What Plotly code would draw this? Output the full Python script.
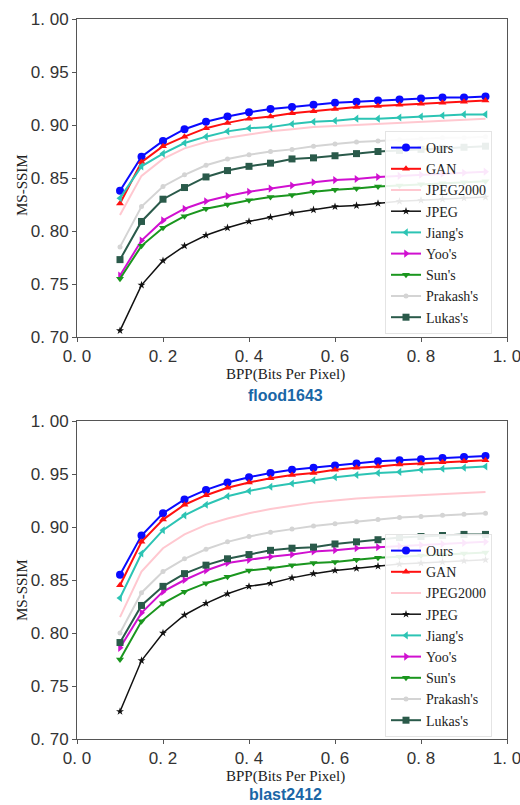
import plotly.graph_objects as go

bpp = [0.10, 0.15, 0.20, 0.25, 0.30, 0.35, 0.40, 0.45, 0.50, 0.55,
       0.60, 0.65, 0.70, 0.75, 0.80, 0.85, 0.90, 0.95]

series_names = ["Ours", "GAN", "JPEG2000", "JPEG", "Jiang's", "Yoo's", "Sun's", "Prakash's", "Lukas's"]

# flood1643
flood_ours = [0.838, 0.870, 0.885, 0.896, 0.903, 0.908, 0.912, 0.915, 0.917, 0.919, 0.921, 0.922, 0.923, 0.924, 0.925, 0.926, 0.926, 0.927]
flood_gan = [0.826, 0.865, 0.880, 0.889, 0.897, 0.902, 0.906, 0.908, 0.911, 0.913, 0.915, 0.917, 0.918, 0.919, 0.920, 0.921, 0.922, 0.923]
flood_jpeg2000 = [0.815, 0.852, 0.868, 0.878, 0.884, 0.888, 0.891, 0.894, 0.896, 0.898, 0.899, 0.900, 0.901, 0.902, 0.903, 0.904, 0.905, 0.906]
flood_jpeg = [0.706, 0.749, 0.772, 0.786, 0.796, 0.803, 0.809, 0.813, 0.817, 0.820, 0.823, 0.824, 0.826, 0.828, 0.829, 0.830, 0.831, 0.832]
flood_jiang = [0.831, 0.861, 0.873, 0.883, 0.889, 0.894, 0.897, 0.898, 0.901, 0.903, 0.904, 0.906, 0.906, 0.907, 0.908, 0.909, 0.910, 0.910]
flood_yoo = [0.758, 0.791, 0.810, 0.821, 0.828, 0.833, 0.837, 0.840, 0.843, 0.846, 0.848, 0.849, 0.851, 0.852, 0.853, 0.854, 0.855, 0.856]
flood_sun = [0.755, 0.786, 0.803, 0.814, 0.821, 0.825, 0.829, 0.832, 0.834, 0.837, 0.839, 0.840, 0.842, 0.843, 0.844, 0.845, 0.846, 0.847]
flood_prakash = [0.785, 0.823, 0.842, 0.853, 0.862, 0.868, 0.872, 0.875, 0.877, 0.880, 0.882, 0.884, 0.885, 0.886, 0.887, 0.888, 0.888, 0.889]
flood_lukas = [0.773, 0.809, 0.830, 0.841, 0.851, 0.857, 0.861, 0.864, 0.868, 0.869, 0.871, 0.873, 0.875, 0.876, 0.877, 0.878, 0.879, 0.880]

# blast2412
blast_ours = [0.855, 0.892, 0.913, 0.926, 0.935, 0.942, 0.947, 0.951, 0.954, 0.956, 0.958, 0.960, 0.962, 0.963, 0.964, 0.965, 0.966, 0.967]
blast_gan = [0.845, 0.886, 0.907, 0.921, 0.930, 0.937, 0.942, 0.946, 0.949, 0.951, 0.954, 0.956, 0.957, 0.959, 0.960, 0.961, 0.962, 0.963]
blast_jpeg2000 = [0.815, 0.858, 0.880, 0.893, 0.902, 0.908, 0.913, 0.917, 0.920, 0.923, 0.925, 0.927, 0.928, 0.929, 0.930, 0.931, 0.932, 0.933]
blast_jpeg = [0.726, 0.774, 0.800, 0.817, 0.828, 0.837, 0.844, 0.847, 0.852, 0.856, 0.859, 0.861, 0.863, 0.865, 0.866, 0.867, 0.868, 0.869]
blast_jiang = [0.833, 0.875, 0.897, 0.911, 0.921, 0.929, 0.934, 0.938, 0.941, 0.944, 0.947, 0.949, 0.951, 0.952, 0.954, 0.955, 0.956, 0.957]
blast_yoo = [0.786, 0.819, 0.839, 0.850, 0.859, 0.866, 0.869, 0.872, 0.874, 0.877, 0.878, 0.880, 0.881, 0.882, 0.883, 0.884, 0.885, 0.886]
blast_sun = [0.775, 0.811, 0.828, 0.839, 0.847, 0.853, 0.859, 0.861, 0.864, 0.866, 0.867, 0.869, 0.871, 0.872, 0.873, 0.874, 0.875, 0.876]
blast_prakash = [0.800, 0.838, 0.858, 0.870, 0.879, 0.886, 0.891, 0.895, 0.898, 0.901, 0.903, 0.905, 0.907, 0.909, 0.910, 0.911, 0.912, 0.913]
blast_lukas = [0.791, 0.826, 0.844, 0.856, 0.864, 0.870, 0.874, 0.878, 0.880, 0.881, 0.884, 0.886, 0.888, 0.890, 0.891, 0.892, 0.893, 0.893]

y_ticks = [0.70, 0.75, 0.80, 0.85, 0.90, 0.95, 1.00]
y_ticktext = ["0. 70", "0. 75", "0. 80", "0. 85", "0. 90", "0. 95", "1. 00"]
x_ticks = [0.0, 0.2, 0.4, 0.6, 0.8, 1.0]
x_ticktext = ["0. 0", "0. 2", "0. 4", "0. 6", "0. 8", "1. 0"]

styles = {
    "Ours": dict(color="#0a0aff", symbol="circle", size=8, width=2, mode="lines+markers"),
    "GAN": dict(color="#ff1010", symbol="triangle-up", size=7, width=2, mode="lines+markers"),
    "JPEG2000": dict(color="#ffc8d0", symbol="circle", size=3, width=2, mode="lines"),
    "JPEG": dict(color="#111111", symbol="star", size=6, width=1.5, mode="lines+markers"),
    "Jiang's": dict(color="#2cc4b4", symbol="triangle-left", size=7, width=2, mode="lines+markers"),
    "Yoo's": dict(color="#d010d0", symbol="triangle-right", size=7, width=2, mode="lines+markers"),
    "Sun's": dict(color="#1a961e", symbol="triangle-down", size=7, width=2, mode="lines+markers"),
    "Prakash's": dict(color="#d4d4d4", symbol="circle", size=5, width=2, mode="lines+markers"),
    "Lukas's": dict(color="#2a5a4a", symbol="square", size=7, width=2, mode="lines+markers"),
}

flood = [flood_ours, flood_gan, flood_jpeg2000, flood_jpeg, flood_jiang, flood_yoo, flood_sun, flood_prakash, flood_lukas]
blast = [blast_ours, blast_gan, blast_jpeg2000, blast_jpeg, blast_jiang, blast_yoo, blast_sun, blast_prakash, blast_lukas]

fig = go.Figure()
for data, xa, ya, lg in [(flood, "x", "y", "legend"), (blast, "x2", "y2", "legend2")]:
    for name, vals in zip(series_names, data):
        s = styles[name]
        fig.add_trace(go.Scatter(
            x=bpp, y=vals, name=name, mode=s["mode"],
            line=dict(color=s["color"], width=s["width"]),
            marker=dict(color=s["color"], symbol=s["symbol"], size=s["size"]),
            xaxis=xa, yaxis=ya, legend=lg,
        ))

# page body margin is removed below, so figure pixels equal window pixels
W, H = 520, 805
ml, mr, mt, mb = 77, 13, 19, 66
ph = H - mt - mb
pw = W - ml - mr

def py(p):
    return 1 - (p - mt) / ph

def px(p):
    return (p - ml) / pw

axis_common = dict(
    showline=True, linecolor="#555555", linewidth=1, mirror=True,
    showgrid=False, zeroline=False, ticks="outside", ticklen=4, tickcolor="#555555",
    tickfont=dict(family="Liberation Sans, Arial", size=17, color="#333333"),
    automargin=False, ticklabeloverflow="allow",
)

legend_common = dict(
    bgcolor="rgba(255,255,255,0.9)", bordercolor="#e4e4e4", borderwidth=1,
    font=dict(family="Liberation Serif, Times New Roman", size=14, color="#222222"),
    xanchor="left", yanchor="top", itemwidth=30, tracegroupgap=0,
)

fig.update_layout(
    width=W, height=H,
    margin=dict(l=ml, r=mr, t=mt, b=mb, autoexpand=False),
    paper_bgcolor="white", plot_bgcolor="white",
    xaxis=dict(domain=[0, 1], anchor="y", range=[0, 1], tickvals=x_ticks, ticktext=x_ticktext, **axis_common),
    yaxis=dict(domain=[py(337), 1], anchor="x", range=[0.70, 1.00], tickvals=y_ticks, ticktext=y_ticktext, **axis_common),
    xaxis2=dict(domain=[0, 1], anchor="y2", range=[0, 1], tickvals=x_ticks, ticktext=x_ticktext, **axis_common),
    yaxis2=dict(domain=[0, py(421)], anchor="x2", range=[0.70, 1.00], tickvals=y_ticks, ticktext=y_ticktext, **axis_common),
    legend=dict(x=px(385), y=py(131), **legend_common),
    legend2=dict(x=px(385), y=py(534), **legend_common),
    showlegend=True,
)

serif = dict(family="Liberation Serif, Times New Roman", size=15, color="#222222")
title_font = dict(family="Liberation Sans, Arial", size=16, color="#1a66a6")
annos = [
    dict(text="BPP(Bits Per Pixel)", x=px(285), y=py(374), font=serif),
    dict(text="BPP(Bits Per Pixel)", x=px(285), y=py(776), font=serif),
    dict(text="MS-SSIM", x=px(22), y=py(185), font=serif, textangle=-90),
    dict(text="MS-SSIM", x=px(22), y=py(590), font=serif, textangle=-90),
    dict(text="<b>flood1643</b>", x=px(285), y=py(395), font=title_font),
    dict(text="<b>blast2412</b>", x=px(285), y=py(794), font=title_font),
]
for a in annos:
    fig.add_annotation(xref="paper", yref="paper", showarrow=False, xanchor="center", yanchor="middle", **a)

fig.write_html("out.html",
               config={"displayModeBar": False},
               post_script="document.body.style.margin='0px';document.body.style.overflow='hidden';")
